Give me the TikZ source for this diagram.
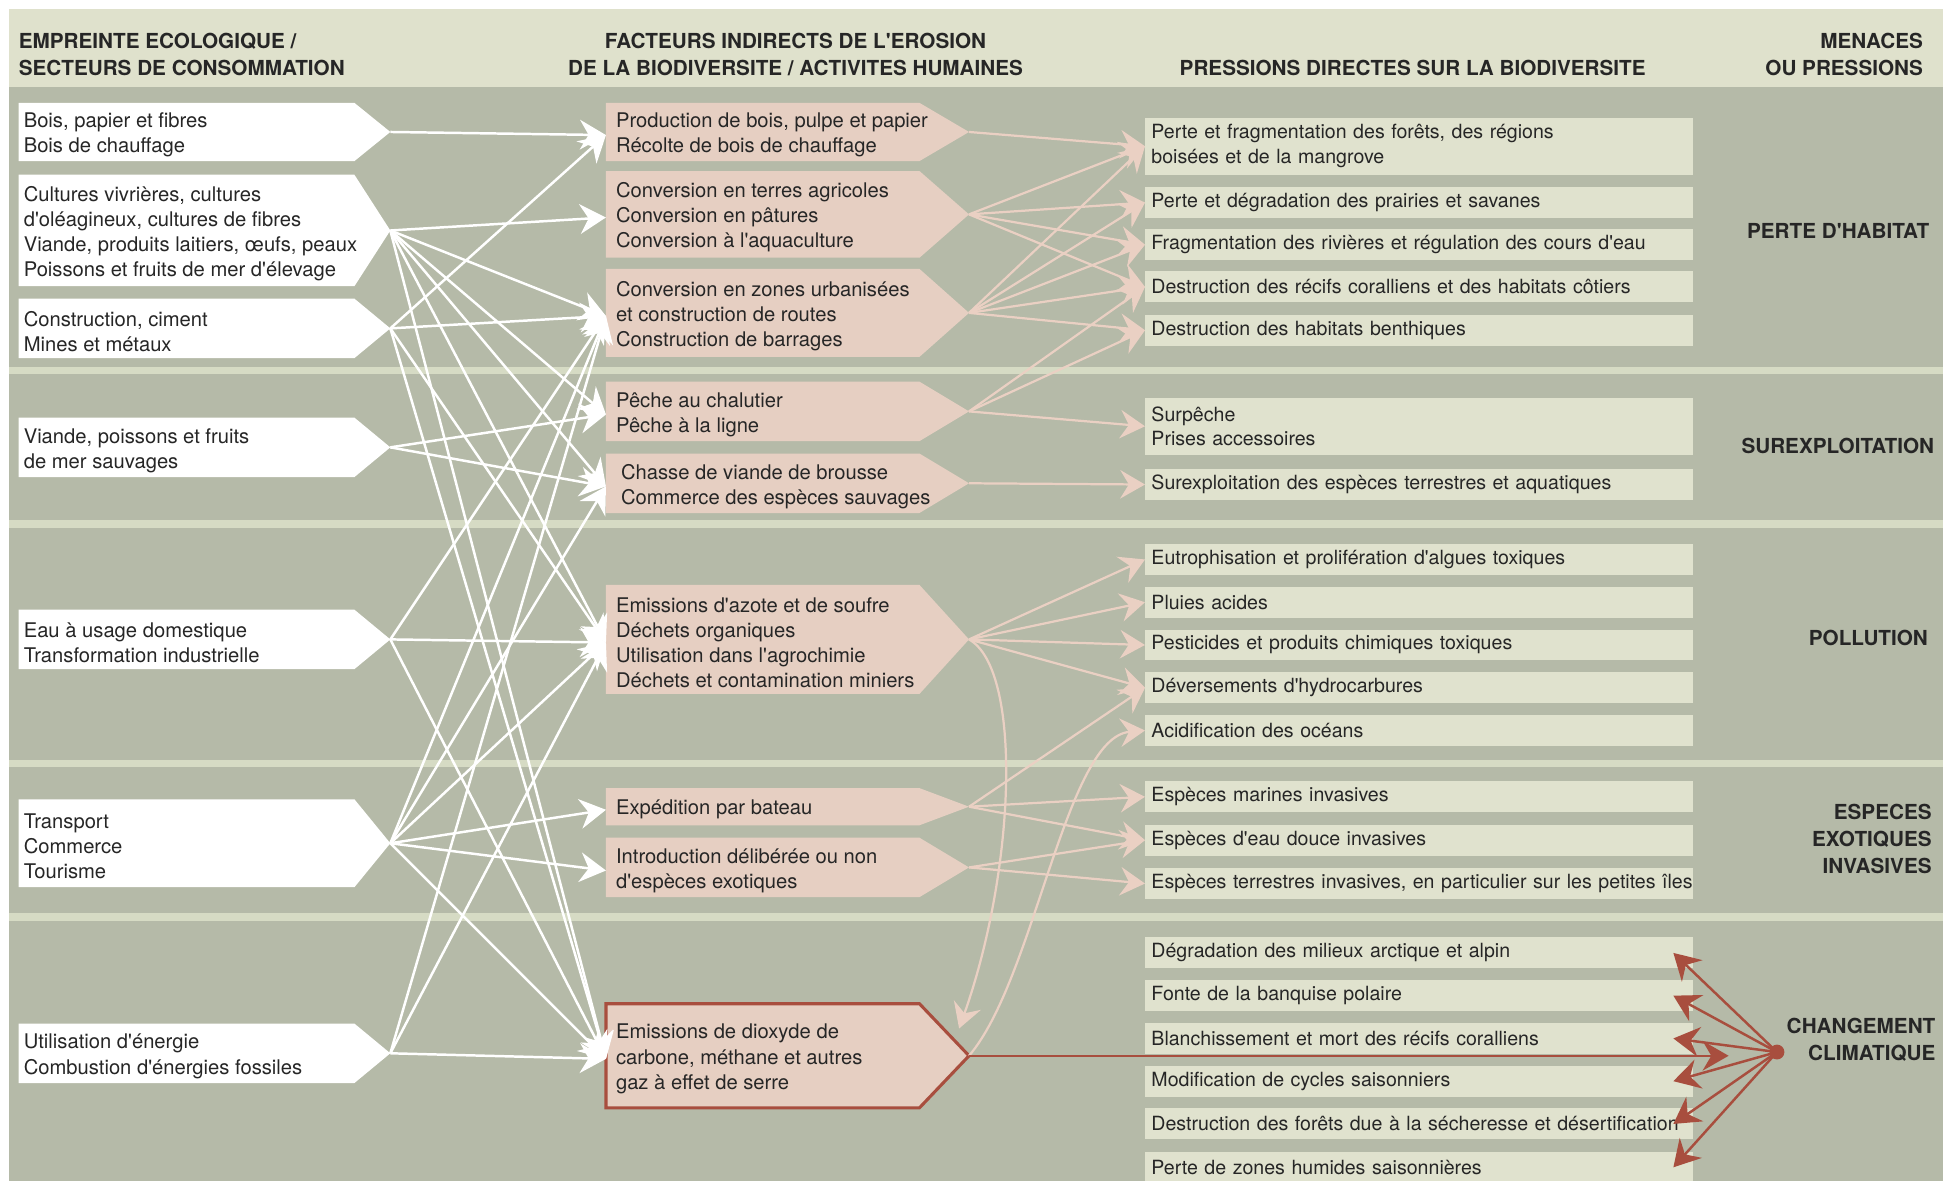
\documentclass[tikz,border=0pt]{standalone}
\usepackage{fontspec}
\setmainfont{TeX Gyre Heros}[Ligatures=TeXOff]
\usetikzlibrary{arrows.meta,calc}

\definecolor{fondtete}{HTML}{DFE1CC}
\definecolor{fond}{HTML}{B5BAA8}
\definecolor{bande}{HTML}{D6DBC4}
\definecolor{boitedroite}{HTML}{E0E2CE}
\definecolor{rose}{HTML}{E6CFC2}
\definecolor{roseligne}{HTML}{EAD0C3}
\definecolor{brique}{HTML}{A84E3E}
\definecolor{encre}{HTML}{262626}

\tikzset{
  texte/.style={font=\fontsize{16.3}{20.3}\selectfont, text=encre, align=left,
    inner xsep=4pt, inner ysep=0pt, anchor=west, yshift=-2.5pt},
  titre/.style={font=\fontsize{16.7}{22}\selectfont\bfseries, text=encre, inner sep=0pt},
  pression/.style={texte, font=\fontsize{15.8}{20}\selectfont, fill=boitedroite,
    minimum width=442pt, text width=432pt, inner xsep=5pt, minimum height=25pt, yshift=1.5pt},
  contour/.style={fill=rose},
  fblanc/.style={white, line width=2pt, -{Stealth[length=21pt, width=24pt, inset=7pt]}},
  frose/.style={roseligne, line width=1.8pt, -{Stealth[length=20pt, width=23pt, inset=7pt]}},
  frouge/.style={brique, line width=2pt, -{Stealth[length=21pt, width=24pt, inset=7pt]}},
}

% secteur: name, top, bottom, text
\newcommand{\secteur}[4]{%
  \fill[white] (15,#2) -- (286,#2) -- (315,{(#2+#3)/2}) -- (286,#3) -- (15,#3) -- cycle;
  \node[texte] (#1) at (15,{(#2+#3)/2}) {#4};
  \coordinate (#1-t) at (315,{(#2+#3)/2});
}
% facteur: [node options], name, top, bottom, text
\newcommand{\facteur}[5][]{%
  \path[contour] (489,#3) -- (742,#3) -- (782,{(#3+#4)/2}) -- (742,#4) -- (489,#4) -- cycle;
  \node[texte, inner xsep=8pt, #1] (#2) at (489,{(#3+#4)/2}) {#5};
  \coordinate (#2-t) at (782,{(#3+#4)/2});
}

\begin{document}
\begin{tikzpicture}[x=1pt, y=-1pt]
  \useasboundingbox (0,0) rectangle (1568,953);
  % fonds
  \fill[fondtete] (7,7) rectangle (1568,70);
  \fill[fond] (7,70) rectangle (1568,953);
  \foreach \y in {296,420,613,737}
    \fill[bande] (7,\y) rectangle (1568,\y+6);

  % titres
  \node[titre, anchor=west, align=left] (tete1) at (15,44) {EMPREINTE ECOLOGIQUE /\\SECTEURS DE CONSOMMATION};
  \node[titre, align=center] (tete2) at (642,44) {FACTEURS INDIRECTS DE L'EROSION\\DE LA BIODIVERSITE / ACTIVITES HUMAINES};
  \node[titre] (tete3) at (1140,55) {PRESSIONS DIRECTES SUR LA BIODIVERSITE};
  \node[titre, anchor=east, align=right] (tete4) at (1552,44) {MENACES\\OU PRESSIONS};

  % secteurs de consommation
  \secteur{l1}{83}{130}{Bois, papier et fibres\\Bois de chauffage}
  \secteur{l2}{141}{231}{Cultures vivrières, cultures\\d'oléagineux, cultures de fibres\\Viande, produits laitiers, œufs, peaux\\Poissons et fruits de mer d'élevage}
  \secteur{l3}{241}{289}{Construction, ciment\\Mines et métaux}
  \secteur{l4}{337}{385}{Viande, poissons et fruits\\de mer sauvages}
  \secteur{l5}{492}{540}{Eau à usage domestique\\Transformation industrielle}
  \secteur{l6}{645}{716}{Transport\\Commerce\\Tourisme}
  \secteur{l7}{826}{874}{Utilisation d'énergie\\Combustion d'énergies fossiles}

  % activites humaines
  \facteur{m1}{83}{130}{Production de bois, pulpe et papier\\Récolte de bois de chauffage}
  \facteur{m2}{138}{208}{Conversion en terres agricoles\\Conversion en pâtures\\Conversion à l'aquaculture}
  \facteur{m3}{217}{288}{Conversion en zones urbanisées\\et construction de routes\\Construction de barrages}
  \facteur{m4}{308}{356}{Pêche au chalutier\\Pêche à la ligne}
  \facteur[inner xsep=12pt]{m5}{366}{414}{Chasse de viande de brousse\\Commerce des espèces sauvages}
  \facteur{m6}{472}{560}{Emissions d'azote et de soufre\\Déchets organiques\\Utilisation dans l'agrochimie\\Déchets et contamination miniers}
  \facteur{m7}{636}{666}{Expédition par bateau}
  \facteur{m8}{676}{724}{Introduction délibérée ou non\\d'espèces exotiques}
  \begin{scope}[contour/.style={fill=rose, draw=brique, line width=2.5pt}]
    \facteur{m9}{810}{894}{Emissions de dioxyde de\\carbone, méthane et autres\\gaz à effet de serre}
  \end{scope}

  % pressions directes
  \node[pression, minimum height=46pt] (r1) at (924,117) {Perte et fragmentation des forêts, des régions\\boisées et de la mangrove};
  \node[pression] (r2) at (924,162.5) {Perte et dégradation des prairies et savanes};
  \node[pression] (r3) at (924,196.5) {Fragmentation des rivières et régulation des cours d'eau};
  \node[pression] (r4) at (924,230.5) {Destruction des récifs coralliens et des habitats côtiers};
  \node[pression] (r5) at (924,265.5) {Destruction des habitats benthiques};
  \node[pression, minimum height=46pt] (r6) at (924,343) {Surpêche\\Prises accessoires};
  \node[pression] (r7) at (924,390) {Surexploitation des espèces terrestres et aquatiques};
  \node[pression] (r8) at (924,450.5) {Eutrophisation et prolifération d'algues toxiques};
  \node[pression] (r9) at (924,485) {Pluies acides};
  \node[pression] (r10) at (924,519.5) {Pesticides et produits chimiques toxiques};
  \node[pression] (r11) at (924,554) {Déversements d'hydrocarbures};
  \node[pression] (r12) at (924,588.5) {Acidification des océans};
  \node[pression] (r13) at (924,642) {Espèces marines invasives};
  \node[pression] (r14) at (924,677) {Espèces d'eau douce invasives};
  \node[pression] (r15) at (924,712) {\mbox{Espèces terrestres invasives, en particulier sur les petites îles}};
  \node[pression] (r16) at (924,768) {Dégradation des milieux arctique et alpin};
  \node[pression] (r17) at (924,802.5) {Fonte de la banquise polaire};
  \node[pression] (r18) at (924,837) {Blanchissement et mort des récifs coralliens};
  \node[pression] (r19) at (924,871.5) {Modification de cycles saisonniers};
  \node[pression] (r20) at (924,906) {\mbox{Destruction des forêts due à la sécheresse et désertification}};
  \node[pression] (r21) at (924,941) {Perte de zones humides saisonnières};

  % menaces
  \node[titre, anchor=east] (habitat) at (1557,186) {PERTE D'HABITAT};
  \node[titre, anchor=east] (surexpl) at (1561,360) {SUREXPLOITATION};
  \node[titre, anchor=east] (pollution) at (1556,515) {POLLUTION};
  \node[titre, anchor=east, align=right] (invasives) at (1559,677) {ESPECES\\EXOTIQUES\\INVASIVES};
  \node[titre, anchor=east, align=right] (climatique) at (1562,839) {CHANGEMENT\\CLIMATIQUE};

  % secteurs -> activites
  \foreach \a/\b in {l1/m1, l2/m2, l2/m3, l2/m4, l2/m5, l2/m6, l2/m9, l3/m1, l3/m3, l3/m6, l3/m9,
      l4/m4, l4/m5, l5/m3, l5/m6, l5/m9, l6/m3, l6/m5, l6/m6, l6/m7, l6/m8, l6/m9, l7/m3, l7/m6, l7/m9}
    \draw[fblanc] (\a-t) -- (\b.west);

  % activites -> pressions
  \foreach \a/\b in {m1/r1, m2/r1, m2/r2, m2/r3, m2/r4, m3/r1, m3/r2, m3/r3, m3/r4, m3/r5,
      m4/r4, m4/r5, m4/r6, m5/r7, m6/r8, m6/r9, m6/r10, m6/r11, m7/r11, m7/r13, m7/r14, m8/r14, m8/r15}
    \draw[frose] (\a-t) -- (\b.west);
  \coordinate (m9-haut) at (774,830);
  \draw[frose] (m6-t) .. controls (825,540) and (820,700) .. (m9-haut);
  \draw[frose] (m9-t) .. controls (835,790) and (860,595) .. (r12.west);

  % changement climatique
  \coordinate (climat) at (1434,849);
  \coordinate (cible) at (1395,852);
  \draw[frouge] (m9-t) -- (cible);
  \foreach \i in {16,...,21}
    \draw[frouge] (climat) -- ([xshift=-16pt]r\i.east);
  \fill[brique] (climat) circle (6pt);
\end{tikzpicture}
\end{document}
